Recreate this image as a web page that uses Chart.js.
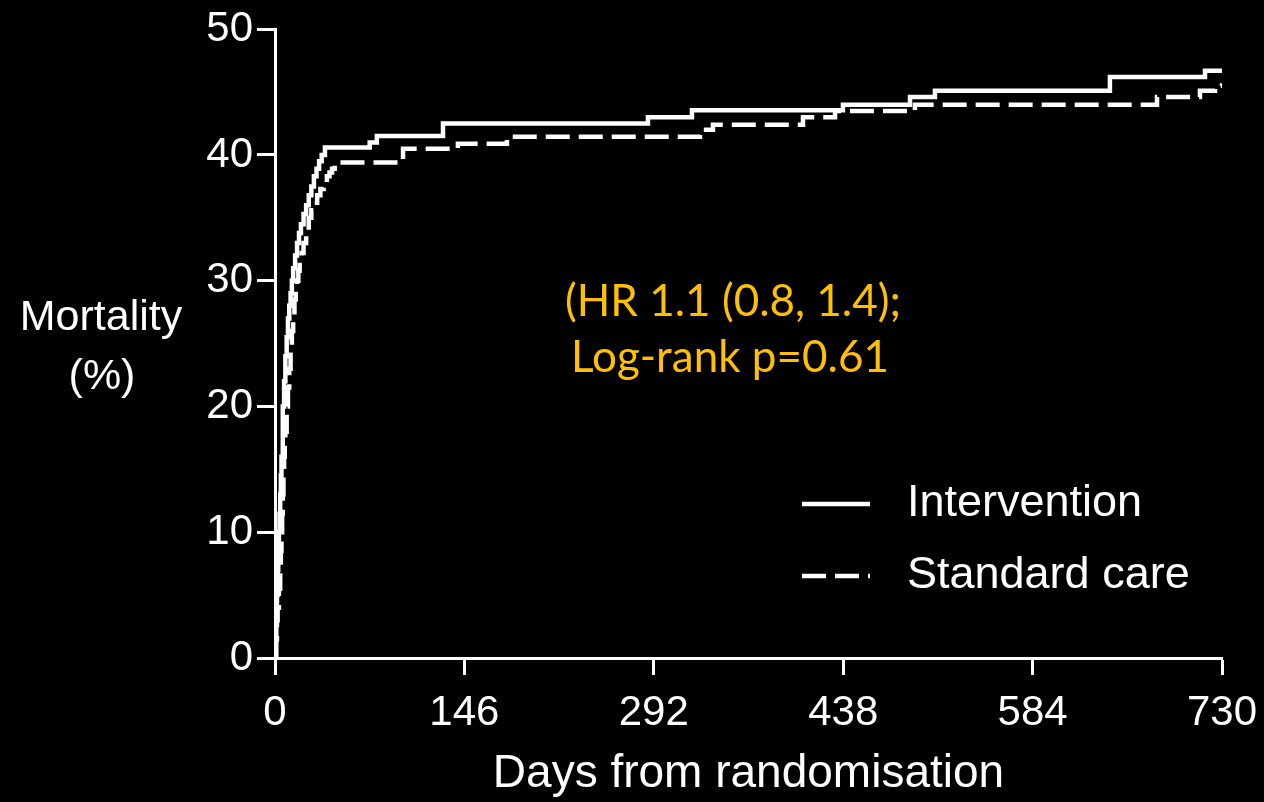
<!DOCTYPE html>
<html>
<head>
<meta charset="utf-8">
<script src="https://cdn.jsdelivr.net/npm/chart.js@4"></script>
<style>
  html, body { margin: 0; padding: 0; background: #000; }
  #wrap { width: 1264px; height: 802px; }
</style>
</head>
<body>
<div id="wrap"><canvas id="km"></canvas></div>
<script>
// cumulative mortality (%) at each event day
const interventionDays = [0, 0.5, 1, 1.5, 2, 2.5, 3, 3.5, 4, 4.5, 5, 6, 7, 8, 9, 10, 11, 12, 13, 14, 15.5, 17,
  18.5, 20, 22, 24, 26, 28, 30, 32, 34, 36, 38.5,
  73, 78.5, 129.5, 287.5, 321.4, 437.8, 489.5, 508.7, 643.6, 716.9, 730];
const interventionPct = [0, 1.5, 3, 5, 7, 8.5, 10, 11.5, 13, 14.5, 16, 20, 22, 24, 25.5, 27, 28, 29, 30, 31, 32, 33,
  33.8, 34.5, 35.3, 36, 36.8, 37.5, 38.3, 38.9, 39.5, 40.0, 40.6,
  41.0, 41.5, 42.5, 43.0, 43.55, 44.0, 44.6, 45.1, 46.2, 46.7, 46.7];

const standardDays = [0, 1, 1.5, 2, 3, 4, 4.5, 5, 5.5, 6, 6.5, 7, 7.5, 8, 9, 10, 11, 12, 13, 14, 15, 16, 17, 18, 19,
  20.5, 22, 24, 26, 28, 30, 32.5, 35, 37.5, 40, 42, 44, 46, 48,
  98.7, 141, 178.8, 327.6, 337.6, 407, 431.7, 493.3, 679.9, 713, 724.6, 730];
const standardPct = [0, 1.5, 3, 4, 5.5, 7, 8.5, 10, 11.5, 13, 14.5, 16, 17, 18, 20, 21.5, 23, 24.5, 26, 27.3, 28.5, 29.3, 30, 30.8, 31.5,
  32.2, 33, 34, 35, 35.6, 36.2, 36.8, 37.3, 37.8, 38.3, 38.6, 38.9, 39.2, 39.4,
  40.5, 40.9, 41.45, 42.0, 42.4, 43.0, 43.5, 44.0, 44.6, 45.1, 45.5, 45.7];

const xTicks = [0, 146, 292, 438, 584, 730];
const seriesNames = ['Intervention', 'Standard care'];
const statsLines = ['(HR 1.1 (0.8, 1.4);', 'Log-rank p=0.61'];

const toPoints = (days, pct) => days.map((d, i) => ({ x: d, y: pct[i] }));

const sans = '"Liberation Sans", Arial, sans-serif';

// y-axis caption, stats text and the little legend in the lower right
const extras = {
  id: 'extras',
  afterDraw(chart) {
    const ctx = chart.ctx;
    ctx.save();
    ctx.fillStyle = '#fff';
    ctx.textAlign = 'center';
    ctx.textBaseline = 'middle';
    ctx.font = '43px ' + sans;
    ctx.fillText('Mortality', 101, 318);
    ctx.fillText('(%)', 102, 377);

    ctx.fillStyle = '#FFC000';
    ctx.font = '44px Lato, "Noto Sans", sans-serif';
    ctx.fillText(statsLines[0], 733, 302);
    ctx.fillText(statsLines[1], 730, 358);

    const rows = [504, 576];
    chart.data.datasets.forEach((ds, i) => {
      ctx.strokeStyle = ds.borderColor;
      ctx.lineWidth = ds.borderWidth;
      ctx.setLineDash(ds.borderDash || []);
      ctx.beginPath();
      ctx.moveTo(802, rows[i]);
      ctx.lineTo(870, rows[i]);
      ctx.stroke();
      ctx.setLineDash([]);
      ctx.fillStyle = '#fff';
      ctx.textAlign = 'left';
      ctx.font = '45px ' + sans;
      ctx.fillText(ds.label, 907, rows[i]);
    });
    ctx.restore();
  }
};

new Chart(document.getElementById('km'), {
  type: 'line',
  data: {
    datasets: [
      {
        label: seriesNames[0],
        data: toPoints(interventionDays, interventionPct),
        stepped: 'before',
        borderColor: '#fff',
        borderWidth: 4.5,
        pointRadius: 0,
        fill: false
      },
      {
        label: seriesNames[1],
        data: toPoints(standardDays, standardPct),
        stepped: 'before',
        borderColor: '#fff',
        borderWidth: 4.5,
        borderDash: [24, 9],
        pointRadius: 0,
        fill: false
      }
    ]
  },
  options: {
    responsive: true,
    maintainAspectRatio: false,
    animation: false,
    layout: { padding: { left: 0, top: 27, right: 42, bottom: 0 } },
    plugins: {
      legend: { display: false },
      tooltip: { enabled: false }
    },
    scales: {
      x: {
        type: 'linear',
        min: 0,
        max: 730,
        afterBuildTicks: (scale) => { scale.ticks = xTicks.map(v => ({ value: v })); },
        afterFit: (scale) => { scale.height = 144; },
        // taller line box pushes the labels down without widening the right padding
        ticks: { color: '#fff', font: { size: 42, family: sans, lineHeight: 1.55 }, padding: 6, maxRotation: 0 },
        grid: { drawOnChartArea: false, drawTicks: true, tickLength: 17, tickWidth: 3, tickColor: '#fff' },
        border: { color: '#fff', width: 3 },
        title: {
          display: true,
          text: 'Days from randomisation',
          color: '#fff',
          font: { size: 46, family: sans },
          padding: { top: 0, bottom: 0 }
        }
      },
      y: {
        min: 0,
        max: 50,
        afterFit: (scale) => { scale.width = 275; },
        ticks: { stepSize: 10, color: '#fff', font: { size: 42, family: sans }, padding: 4 },
        grid: { drawOnChartArea: false, drawTicks: true, tickLength: 18, tickWidth: 3, tickColor: '#fff' },
        border: { color: '#fff', width: 3 }
      }
    }
  },
  plugins: [extras]
});
</script>
</body>
</html>
